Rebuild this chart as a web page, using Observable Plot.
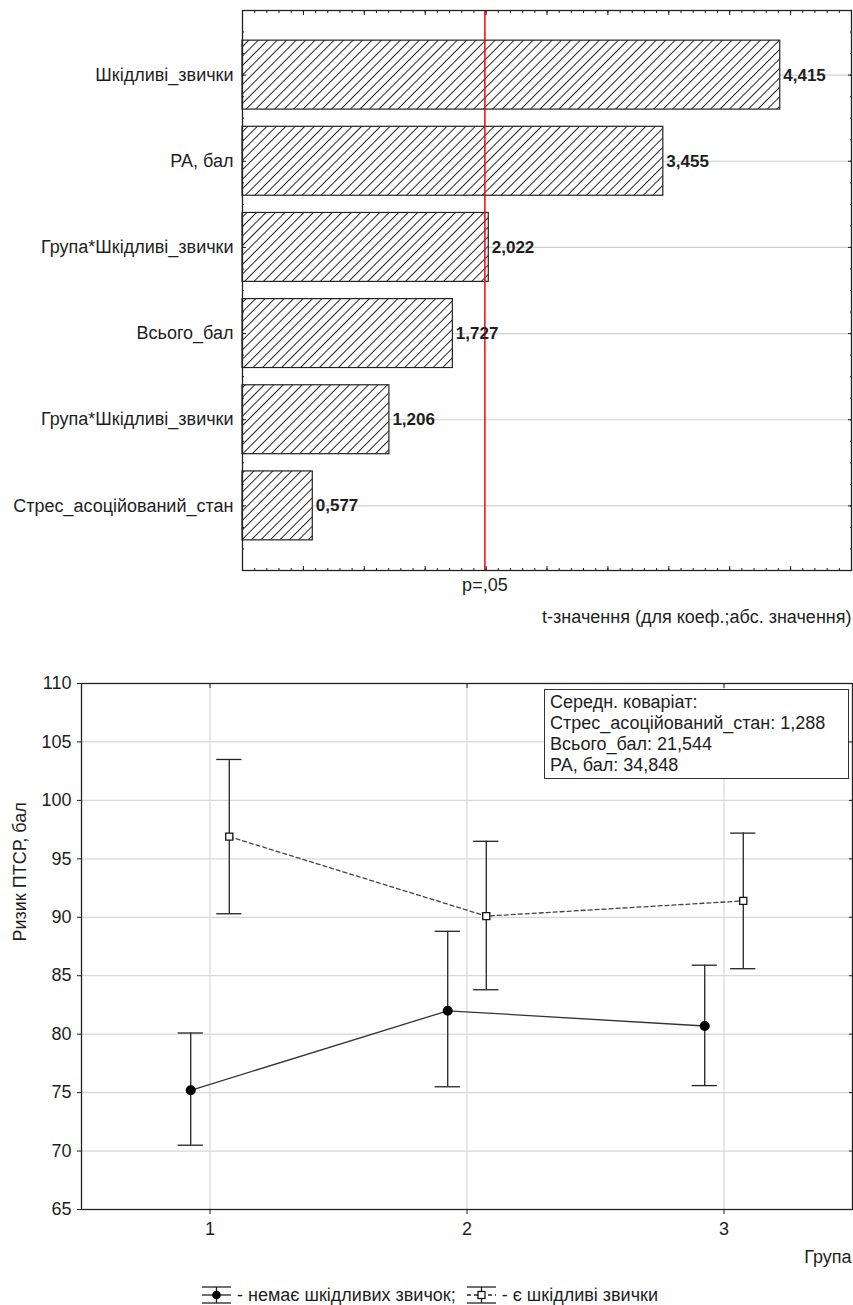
<!DOCTYPE html>
<html>
<head>
<meta charset="utf-8">
<script src="https://cdn.jsdelivr.net/npm/d3@7"></script>
<script src="https://cdn.jsdelivr.net/npm/@observablehq/plot@0.6"></script>
<style>
  body { margin: 0; background: #fff; }
  #wrap { position: relative; width: 853px; height: 1305px; font-family: "Liberation Sans", Arial, sans-serif; color: #1e1e1e; overflow: hidden; }
  #wrap svg { display: block; }
  #cov { position: absolute; left: 544px; top: 689px; width: 298px; height: 86px; border: 1.5px solid #333; padding: 2px 0 0 5px; font-size: 18px; line-height: 21px; background: #fff; white-space: nowrap; }
  #legend { position: absolute; left: 202px; top: 1284px; height: 22px; display: flex; align-items: center; font-size: 18px; white-space: nowrap; }
  #legend span { margin: 0 11px 0 6px; }
</style>
</head>
<body>
<div id="wrap">
  <div id="topchart"></div>
  <div id="bottomchart"></div>
  <div id="cov"></div>
  <div id="legend"></div>
</div>
<script>
// ---------- data: top chart (t-values) ----------
const factorNames = ["Шкідливі_звички", "РА, бал", "Група*Шкідливі_звички", "Всього_бал", "Група*Шкідливі_звички", "Стрес_асоційований_стан"];
const tValues = [4.415, 3.455, 2.022, 1.727, 1.206, 0.577];
const critT = 1.99;
const critLabel = "p=,05";
const topXLabel = "t-значення (для коеф.;абс. значення)";
const topXDomain = [0, 5];

// ---------- data: bottom chart ----------
const groups = [1, 2, 3];
const meanNo = [75.2, 82.0, 80.7];
const lowNo = [70.5, 75.5, 75.6];
const highNo = [80.1, 88.8, 85.9];
const meanYes = [96.9, 90.1, 91.4];
const lowYes = [90.3, 83.8, 85.6];
const highYes = [103.5, 96.5, 97.2];
const yTicks = [65, 70, 75, 80, 85, 90, 95, 100, 105, 110];
const yLabel = "Ризик ПТСР, бал";
const xLabel = "Група";
const covLines = ["Середн. коваріат:", "Стрес_асоційований_стан: 1,288", "Всього_бал: 21,544", "РА, бал: 34,848"];
const legendNo = "- немає шкідливих звичок;";
const legendYes = "- є шкідливі звички";

const font = {fontFamily: "Liberation Sans, Arial, sans-serif", fontSize: "18px", color: "#1e1e1e", background: "#fff", overflow: "visible"};
const fmt = v => d3.format(".3f")(v).replace(".", ",");
const blank = () => "";

// ---------- top chart ----------
const rows = factorNames.map((name, i) => ({name, i, t: tValues[i]}));
const idx = d3.range(rows.length);
const yMinor = d3.range(-3, rows.length * 4 - 1).map(k => k / 4);
const xMajor = d3.range(0, 11).map(k => k / 2);
const xMinor = d3.range(0, 51).map(k => k / 10);
const half = 0.4;

const topChart = Plot.plot({
  width: 853, height: 640,
  marginTop: 10, marginLeft: 242, marginRight: 2, marginBottom: 70,
  style: font,
  x: {domain: topXDomain},
  y: {domain: [-0.75, rows.length - 0.25], reverse: true},
  marks: [
    Plot.gridY(idx, {stroke: "#d0d0d0", strokeOpacity: 1, strokeWidth: 1.2}),
    Plot.rectX(rows, {x1: () => 0, x2: "t", y1: d => d.i - half, y2: d => d.i + half, fill: "url(#hatch)", stroke: "#222", strokeWidth: 1.2}),
    Plot.ruleX([critT], {stroke: "#ff0000", strokeWidth: 1.5}),
    Plot.text(rows, {x: "t", y: "i", text: d => fmt(d.t), textAnchor: "start", dx: 3, fontWeight: "bold", fontSize: 17, fill: "#1e1e1e"}),
    Plot.frame({stroke: "#222", strokeWidth: 1.3}),
    Plot.axisX(xMajor, {anchor: "bottom", tickSize: -4, tickFormat: blank, label: null}),
    Plot.axisX(xMinor, {anchor: "bottom", tickSize: -2, tickFormat: blank, label: null}),
    Plot.axisX(xMajor, {anchor: "top", tickSize: -4, tickFormat: blank, label: null}),
    Plot.axisX(xMinor, {anchor: "top", tickSize: -2, tickFormat: blank, label: null}),
    Plot.axisY(idx, {anchor: "right", tickSize: -4, tickFormat: blank, label: null}),
    Plot.axisY(yMinor, {anchor: "right", tickSize: -2, tickFormat: blank, label: null}),
    Plot.axisY(idx, {anchor: "left", tickSize: -4, tickFormat: blank, label: null}),
    Plot.axisY(yMinor, {anchor: "left", tickSize: -2, tickFormat: blank, label: null}),
    Plot.axisY(idx, {anchor: "left", tickSize: 0, tickPadding: 9, tickFormat: i => factorNames[i], label: null}),
    Plot.text([critT], {x: d => d, frameAnchor: "bottom", dy: 20, text: () => critLabel, fill: "#1e1e1e"}),
    Plot.text([topXLabel], {frameAnchor: "bottom-right", dy: 52, textAnchor: "end", text: d => d, fill: "#1e1e1e"})
  ]
});
// hatch pattern
{
  const s = 6.7;
  const defs = d3.select(topChart).insert("defs", ":first-child");
  const pat = defs.append("pattern").attr("id", "hatch").attr("patternUnits", "userSpaceOnUse")
    .attr("width", s).attr("height", s).attr("patternTransform", "rotate(45)");
  pat.append("rect").attr("width", s).attr("height", s).attr("fill", "#fff");
  pat.append("line").attr("x1", s / 2).attr("x2", s / 2).attr("y1", -1).attr("y2", s + 1)
    .attr("stroke", "#222").attr("stroke-width", 1);
}
document.getElementById("topchart").appendChild(topChart);

// ---------- bottom chart ----------
const off = 0.075;
const capHalf = 0.049;
const ptsNo = groups.map((g, j) => ({g, x: g - off, m: meanNo[j], lo: lowNo[j], hi: highNo[j]}));
const ptsYes = groups.map((g, j) => ({g, x: g + off, m: meanYes[j], lo: lowYes[j], hi: highYes[j]}));
const pts = ptsNo.concat(ptsYes);

const bottomChart = Plot.plot({
  width: 853, height: 640,
  marginTop: 43, marginLeft: 81, marginRight: 1, marginBottom: 71,
  style: font,
  x: {domain: [0.5, 3.5]},
  y: {domain: [65, 110]},
  marks: [
    Plot.gridY(yTicks, {stroke: "#d8d8d8", strokeOpacity: 1, strokeWidth: 1.2}),
    Plot.gridX(groups, {stroke: "#d8d8d8", strokeOpacity: 1, strokeWidth: 1.2}),
    Plot.line(ptsNo, {x: "x", y: "m", stroke: "#333", strokeWidth: 1.3}),
    Plot.line(ptsYes, {x: "x", y: "m", stroke: "#444", strokeWidth: 1.3, strokeDasharray: "4,3"}),
    Plot.ruleX(pts, {x: "x", y1: "lo", y2: "hi", stroke: "#222", strokeWidth: 1.3}),
    Plot.ruleY(pts, {y: "lo", x1: d => d.x - capHalf, x2: d => d.x + capHalf, stroke: "#222", strokeWidth: 1.3}),
    Plot.ruleY(pts, {y: "hi", x1: d => d.x - capHalf, x2: d => d.x + capHalf, stroke: "#222", strokeWidth: 1.3}),
    Plot.dot(ptsNo, {x: "x", y: "m", r: 4.3, fill: "#000", stroke: "#000"}),
    Plot.dot(ptsYes, {x: "x", y: "m", r: 4, symbol: "square", fill: "#fff", stroke: "#111", strokeWidth: 1.3}),
    Plot.frame({stroke: "#222", strokeWidth: 1.3}),
    Plot.axisY(yTicks, {anchor: "left", tickSize: 4, tickPadding: 6, label: null}),
    Plot.axisY(yTicks, {anchor: "right", tickSize: -4, tickFormat: blank, label: null}),
    Plot.axisX(groups, {anchor: "bottom", tickSize: 5, tickPadding: 8, tickFormat: d3.format("d"), label: null}),
    Plot.axisX(groups, {anchor: "top", tickSize: -4, tickFormat: blank, label: null}),
    Plot.text([yLabel], {frameAnchor: "left", rotate: -90, dx: -61, dy: -5, text: d => d, fill: "#1e1e1e"}),
    Plot.text([xLabel], {frameAnchor: "bottom-right", dx: -1, dy: 53, textAnchor: "end", text: d => d, fill: "#1e1e1e"})
  ]
});
document.getElementById("bottomchart").appendChild(bottomChart);

// ---------- covariate box ----------
const cov = document.getElementById("cov");
covLines.forEach(t => { const d = document.createElement("div"); d.textContent = t; cov.appendChild(d); });

// ---------- legend ----------
function glyph(dashed) {
  const svg = d3.create("svg").attr("width", 29).attr("height", 20);
  const g = svg.append("g").attr("stroke", "#222").attr("stroke-width", 1.3);
  g.append("line").attr("x1", 0).attr("x2", 29).attr("y1", 2).attr("y2", 2);
  g.append("line").attr("x1", 0).attr("x2", 29).attr("y1", 18).attr("y2", 18);
  g.append("line").attr("x1", 14.5).attr("x2", 14.5).attr("y1", 2).attr("y2", 18);
  g.append("line").attr("x1", 0).attr("x2", 29).attr("y1", 10).attr("y2", 10).attr("stroke-dasharray", dashed ? "4,3" : null);
  if (dashed) svg.append("rect").attr("x", 11).attr("y", 6.5).attr("width", 7).attr("height", 7).attr("fill", "#fff").attr("stroke", "#111").attr("stroke-width", 1.3);
  else svg.append("circle").attr("cx", 14.5).attr("cy", 10).attr("r", 4.3).attr("fill", "#000");
  return svg.node();
}
const leg = document.getElementById("legend");
leg.appendChild(glyph(false));
{ const s = document.createElement("span"); s.textContent = legendNo; leg.appendChild(s); }
leg.appendChild(glyph(true));
{ const s = document.createElement("span"); s.textContent = legendYes; leg.appendChild(s); }
</script>
</body>
</html>
